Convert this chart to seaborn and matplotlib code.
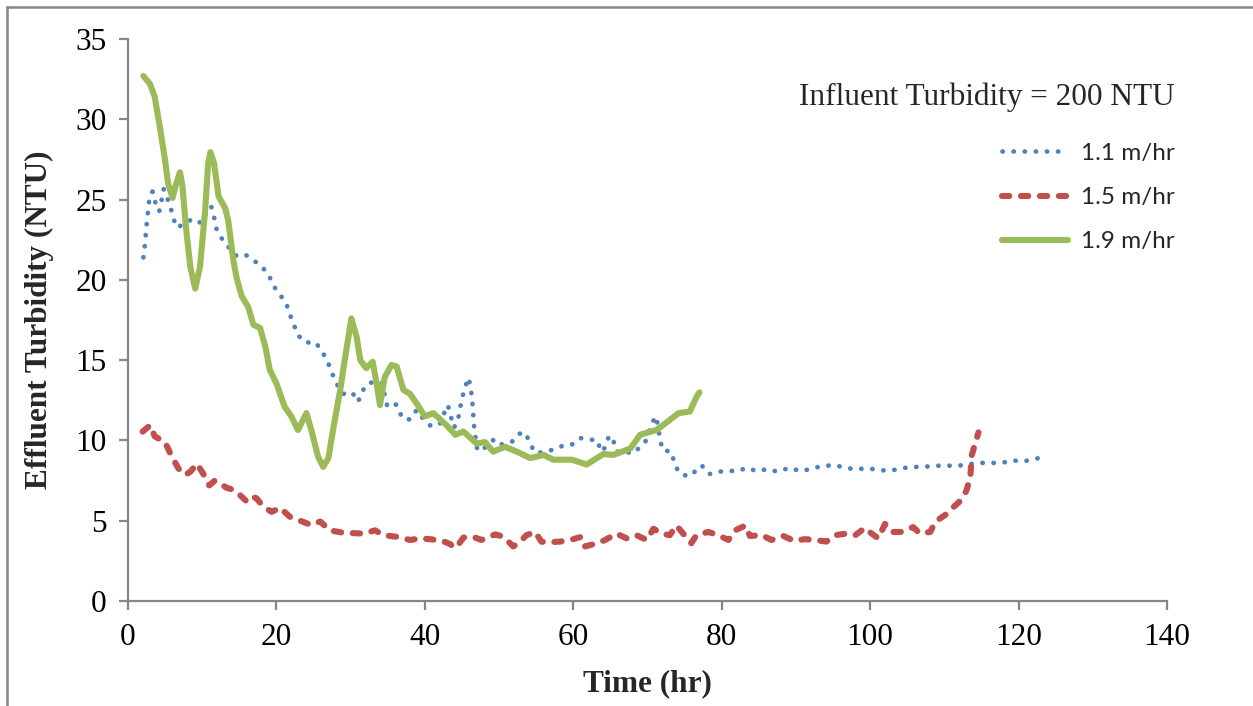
import numpy as np
import pandas as pd
import matplotlib
matplotlib.use("Agg")
import matplotlib.pyplot as plt
from matplotlib.font_manager import FontProperties
from matplotlib.lines import Line2D
import seaborn as sns

# ---- data ----
t_11 = [2.07, 2.26, 2.4, 2.53, 2.7, 2.87, 3.3, 3.7, 4.2, 4.5, 4.8, 5.7, 6.05, 6.6, 7.6, 8.7, 9.8,
        10.6, 11.2, 11.6, 11.9, 12.6, 13.6, 14.6, 15.7, 16.7, 17.8, 18.9, 19.5, 20.4, 21.3, 21.7,
        22.3, 22.8, 23.9, 25.3, 26.2, 26.9, 27.5, 28.0, 29.0, 30.2, 31.0, 31.6, 32.5, 34.2, 34.9,
        35.7, 36.4, 36.9, 38.0, 38.9, 39.7, 40.8, 42.0, 42.6, 43.1, 43.5, 43.9, 44.4, 44.7, 45.0,
        45.4, 45.9, 46.2, 46.4, 46.5, 46.6, 46.8, 46.9, 47.5, 49.4, 50.4, 51.7, 52.6, 53.5, 54.1,
        54.8, 56.0, 57.4, 58.5, 59.7, 60.9, 62.3, 63.3, 63.7, 64.4, 64.8, 65.4, 65.8, 66.8, 68.1,
        69.7, 70.6, 71.2, 71.4, 71.7, 72.0, 73.2, 73.6, 74.2, 75.5, 76.5, 77.3, 78.3, 79.5, 80.8,
        82.2, 83.4, 84.6, 86.1, 87.6, 89.1, 90.5, 91.9, 93.4, 94.9, 96.4, 97.8, 99.3, 100.8, 102.3,
        103.8, 105.3, 106.9, 108.4, 110.0, 111.5, 113.0, 114.6, 116.1, 117.7, 119.2, 120.7, 122.2,
        123.75]
v_11 = [21.4, 22.1, 22.85, 23.55, 24.25, 25.0, 25.5, 24.8, 24.25, 24.9, 25.65, 24.6, 23.9, 23.25,
        23.5, 23.8, 23.55, 24.2, 24.6, 23.9, 23.2, 22.6, 22.0, 21.5, 21.6, 21.3, 20.9, 20.4, 19.7,
        19.1, 18.6, 17.95, 17.3, 16.6, 16.1, 16.1, 15.5, 14.9, 14.2, 13.6, 12.9, 13.0, 12.4, 13.1,
        13.6, 13.6, 12.2, 12.4, 12.1, 11.4, 11.3, 11.9, 11.4, 10.9, 11.0, 11.7, 12.2, 11.5, 10.8,
        11.1, 11.9, 12.6, 13.3, 13.9, 13.2, 12.45, 11.7, 11.0, 10.3, 9.6, 9.3, 10.1, 9.75, 9.9,
        10.4, 10.5, 9.9, 9.25, 9.25, 9.45, 9.65, 9.7, 10.15, 10.05, 10.0, 9.3, 9.6, 10.3, 10.0,
        9.3, 9.3, 9.2, 9.9, 11.1, 11.5, 10.8, 10.1, 9.4, 9.3, 8.65, 8.0, 7.75, 8.1, 8.45, 7.9,
        8.05, 8.1, 8.1, 8.3, 8.1, 8.2, 8.05, 8.3, 8.1, 8.2, 8.4, 8.45, 8.35, 8.2, 8.25, 8.2, 8.1,
        8.2, 8.35, 8.35, 8.4, 8.45, 8.4, 8.5, 8.6, 8.6, 8.6, 8.75, 8.7, 8.85, 9.0]

t_15 = [1.97, 3.0, 3.6, 4.98, 5.9, 6.8, 7.7, 8.4, 9.3, 10.1, 10.95, 11.7, 13.3, 14.4, 16.0, 16.7,
        17.3, 18.2, 19.35, 20.5, 21.8, 23.2, 24.7, 25.9, 27.2, 29.0, 31.7, 33.3, 34.4, 36.2, 38.0,
        39.4, 40.7, 42.3, 43.4, 44.0, 44.5, 45.2, 46.5, 47.6, 49.5, 50.6, 51.9, 52.6, 53.7, 54.85,
        55.7, 56.4, 58.2, 59.6, 61.1, 61.6, 63.2, 64.3, 65.8, 67.2, 68.5, 69.9, 70.8, 71.9, 73.0,
        73.9, 74.8, 75.9, 76.6, 78.2, 79.5, 80.9, 81.8, 83.2, 83.8, 85.4, 86.7, 88.3, 89.7, 91.2,
        92.6, 94.1, 95.3, 96.8, 98.0, 99.3, 100.2, 101.1, 102.0, 102.9, 104.1, 105.8, 106.7, 108.1,
        108.8, 110.1, 111.0, 112.3, 113.0, 113.5, 113.7, 114.6]
v_15 = [10.55, 10.95, 10.25, 9.9, 9.0, 8.25, 7.85, 8.05, 8.55, 7.95, 7.2, 7.5, 7.05, 6.9, 6.2, 6.5,
        6.4, 5.9, 5.55, 5.8, 5.25, 5.0, 4.73, 4.95, 4.4, 4.25, 4.2, 4.4, 4.1, 4.0, 3.8,
        3.9, 3.85, 3.75, 3.55, 3.3, 3.5, 3.95, 4.0, 3.8, 4.15, 4.0, 3.4, 3.6, 4.1, 4.3,
        3.7, 3.65, 3.7, 3.8, 4.0, 3.4, 3.6, 3.8, 4.2, 3.9, 4.1, 3.8, 4.5, 4.2, 4.1,
        4.7, 4.2, 3.6, 4.1, 4.3, 4.1, 3.8, 4.4, 4.7, 4.05, 4.1, 3.8, 4.05, 3.75, 3.85,
        3.8, 3.7, 4.1, 4.2, 4.1, 4.55, 4.2, 3.9, 4.8, 4.3, 4.3, 4.6, 4.2, 4.3,
        4.95, 5.35, 5.75, 6.3, 6.9, 7.75, 9.1, 10.5]

t_19 = [2.07, 2.96, 3.6, 4.3, 4.98, 5.4, 6.0, 6.5, 7.0, 7.35, 7.8, 8.4, 9.06, 9.7, 10.4, 10.8, 11.1,
        11.6, 12.2, 13.1, 13.5, 14.2, 14.6, 15.3, 16.2, 16.9, 17.8, 18.5, 19.1, 20.0, 21.1, 22.0,
        22.9, 24.05, 24.7, 25.6, 26.3, 27.0, 27.7, 28.6, 29.2, 30.1, 30.8, 31.3, 32.1, 32.97, 33.5,
        33.95, 34.6, 35.5, 36.2, 37.1, 38.0, 38.9, 40.0, 41.15, 42.9, 44.1, 45.2, 47.0, 48.1, 49.2,
        50.8, 52.4, 54.2, 56.0, 57.3, 59.8, 61.8, 64.05, 65.4, 67.7, 69.0, 71.2, 72.8, 74.2, 75.7,
        76.6, 77.0]
v_19 = [32.7, 32.2, 31.4, 29.5, 27.5, 26.0, 25.1, 26.0, 26.7, 25.8, 23.3, 20.8, 19.45, 20.8, 24.35,
        27.25, 27.95, 27.25, 25.2, 24.45, 23.7, 21.2, 20.2, 19.0, 18.3, 17.2, 17.0, 15.85, 14.4,
        13.55, 12.1, 11.5, 10.65, 11.7, 10.65, 9.0, 8.35, 8.9, 10.85, 13.15, 15.0, 17.6, 16.45,
        15.0, 14.5, 14.9, 13.55, 12.2, 13.95, 14.7, 14.6, 13.15, 12.9, 12.3, 11.5, 11.7, 10.95,
        10.35, 10.55, 9.8, 9.9, 9.3, 9.6, 9.3, 8.9, 9.1, 8.8, 8.8, 8.5, 9.15, 9.1, 9.5, 10.35,
        10.65, 11.2, 11.7, 11.8, 12.7, 13.0]

series_labels = ["1.1 m/hr", "1.5 m/hr", "1.9 m/hr"]
title_text = "Influent Turbidity = 200 NTU"
x_label = "Time (hr)"
y_label = "Effluent Turbidity (NTU)"

# ---- figure ----
sns.set_style("white")
plt.rcParams["font.family"] = ["Liberation Serif", "DejaVu Serif"]

W, H, DPI = 1253, 706, 100
fig = plt.figure(figsize=(W / DPI, H / DPI), dpi=DPI)
ax = fig.add_axes([128 / W, 1 - 601 / H, (1167 - 128) / W, (601 - 39) / H])

colors = ["#4F81BD", "#C0504D", "#9BBB59"]
styles = [
    dict(lw=3.4, dashes=(0.05, 2.3), dash_capstyle="round"),
    dict(lw=4.4, dashes=(1.2, 1.9), dash_capstyle="round"),
    dict(lw=4.4, solid_capstyle="round", solid_joinstyle="round"),
]
series = [(t_11, v_11), (t_15, v_15), (t_19, v_19)]

handles = []
for (tt, vv), lab, c, st in zip(series, series_labels, colors, styles):
    df = pd.DataFrame({"t": tt, "v": vv})
    sns.lineplot(data=df, x="t", y="v", ax=ax, color=c, sort=False,
                 estimator=None, legend=False, **{k: v for k, v in st.items() if k != "dashes"})
    line = ax.lines[-1]
    if "dashes" in st:
        line.set_dashes(st["dashes"])
        line.set_dash_capstyle(st["dash_capstyle"])
    line.set_solid_joinstyle("round")
    line.set_dash_joinstyle("round")
    h = Line2D([], [], color=c, lw=st["lw"])
    if "dashes" in st:
        h.set_dashes(st["dashes"])
        h.set_dash_capstyle(st["dash_capstyle"])
    else:
        h.set_solid_capstyle("round")
    handles.append(h)

ax.set_xlim(0, 140)
ax.set_ylim(0, 35)
ax.set_xticks(np.arange(0, 141, 20))
ax.set_yticks(np.arange(0, 36, 5))

gray = "#868686"
for s in ["top", "right"]:
    ax.spines[s].set_visible(False)
for s in ["left", "bottom"]:
    ax.spines[s].set_color(gray)
    ax.spines[s].set_linewidth(1.6)
ax.tick_params(axis="both", which="major", direction="out", length=6.5, width=1.6,
               color=gray, labelsize=22.5, labelcolor="black", pad=9,
               bottom=True, left=True, top=False, right=False)
ax.grid(False)

ax.set_xlabel(x_label, fontsize=22.5, fontweight="bold", labelpad=13)
ax.set_ylabel(y_label, fontsize=22.5, fontweight="bold", labelpad=15)

leg = ax.legend(handles, series_labels, title=title_text, loc="upper right",
                bbox_to_anchor=(1.007, 0.922), frameon=False, alignment="right",
                prop=FontProperties(family="Lato", size=17.5),
                title_fontproperties=FontProperties(family="Liberation Serif", size=22.5),
                handlelength=2.75, handletextpad=0.5, labelspacing=0.95, borderpad=0,
                borderaxespad=0)
leg._legend_box.sep = 22

# outer border
fig.add_artist(Line2D([7 / W, 7 / W], [0, 1 - 7 / H], color=gray, lw=1.8, transform=fig.transFigure))
fig.add_artist(Line2D([7 / W, 1], [1 - 7 / H, 1 - 7 / H], color=gray, lw=1.8, transform=fig.transFigure))

fig.savefig("out.png", dpi=DPI)
